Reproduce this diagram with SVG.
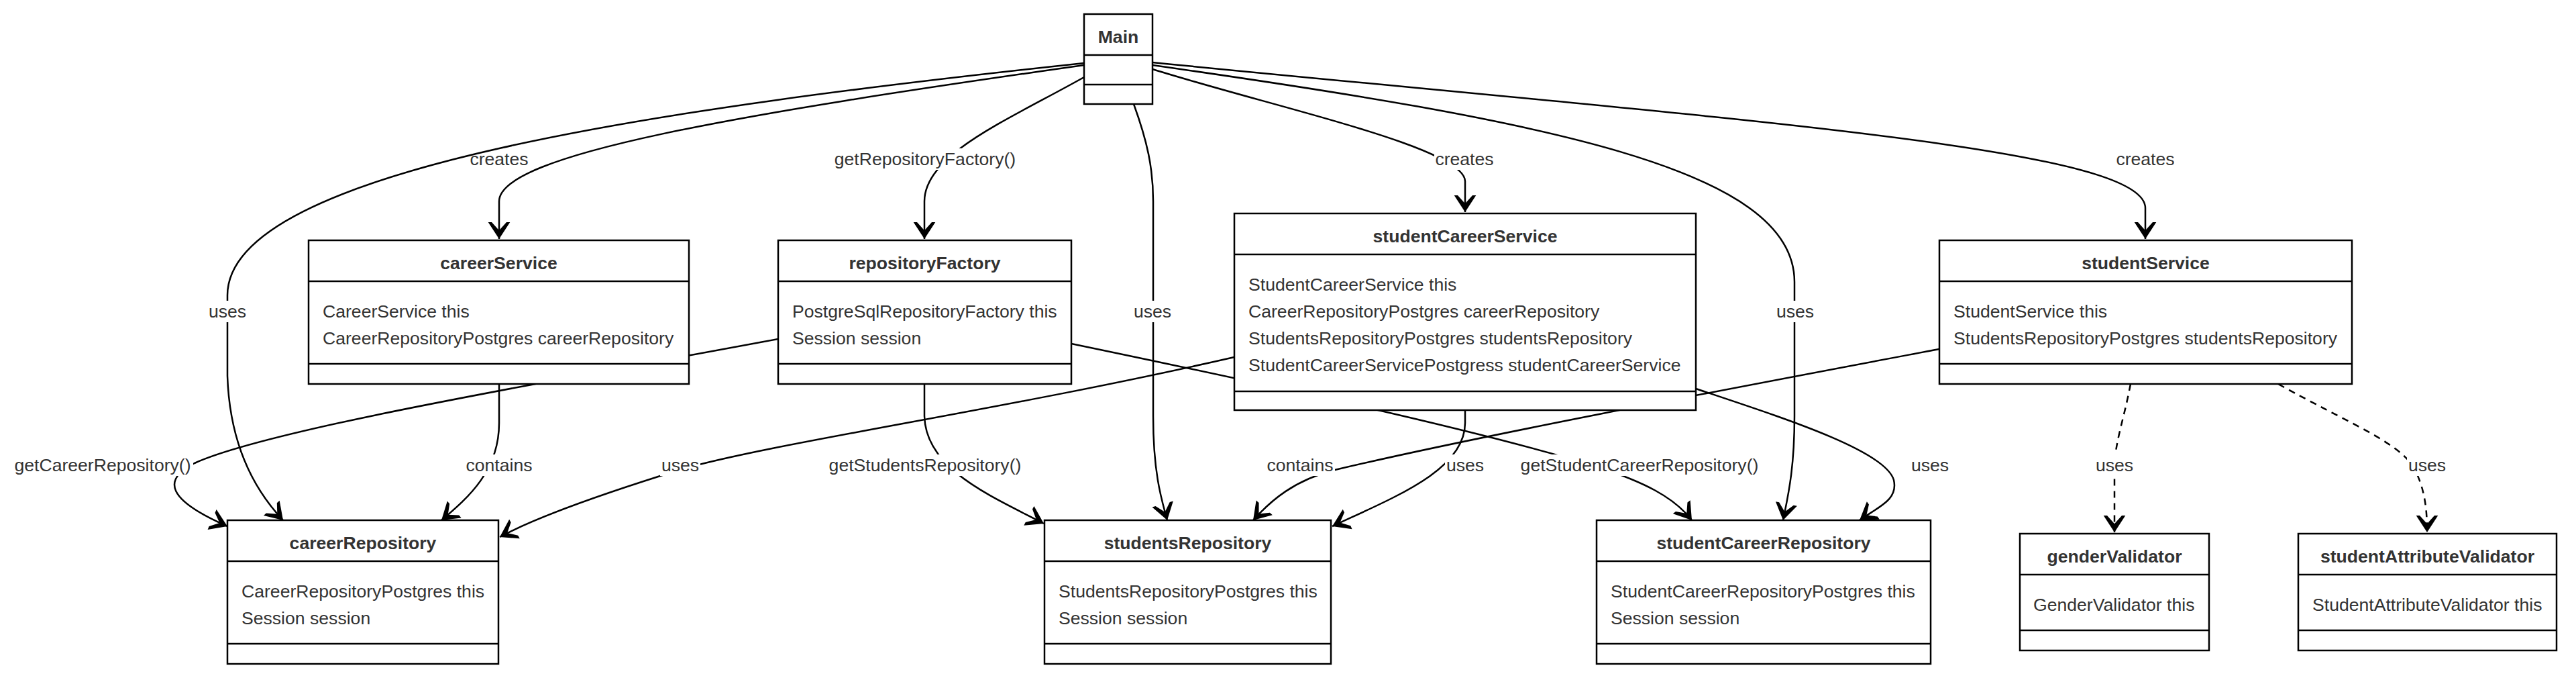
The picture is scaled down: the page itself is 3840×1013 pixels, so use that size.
<svg xmlns="http://www.w3.org/2000/svg" width="3840" height="1013" viewBox="0 0 3840 1013">
<style>
.box{fill:#fff;stroke:#000;stroke-width:2.5}
.dv{stroke:#000;stroke-width:2.5}
.t{font-family:"Liberation Sans",Arial,Helvetica,sans-serif;font-size:26.6px;fill:#333}
.b{font-weight:bold;text-anchor:middle}
.e{fill:none;stroke:#000;stroke-width:2.5;marker-end:url(#arr)}
.d{stroke-dasharray:10 8}
.lb{fill:#fff}
.m{text-anchor:middle}
</style>
<defs>
<marker id="arr" markerUnits="userSpaceOnUse" markerWidth="30" markerHeight="36" viewBox="-27 -18 30 36" refX="0" refY="0" orient="auto">
<path d="M0,0 L-25,-16.3 L-25,-11 L-12.7,0 L-25,11 L-25,16.3 Z" fill="#000"/>
</marker>
</defs>
<rect width="3840" height="1013" fill="#fff"/>
<g id="connectors">
<path class="e" d="M1616,94 C1000,160 339,250 339,440 L339,560 C342,650 370,720 422,775"/>
<path class="e" d="M1616,97 C1100,170 744,230 744,300 L744,356"/>
<path class="e" d="M1616,115 C1500,180 1378,230 1378,300 L1378,356"/>
<path class="e" d="M1690,155 C1710,210 1719,250 1719,300 L1719,620 C1719,700 1730,740 1740,775"/>
<path class="e" d="M1718,103 C1900,160 2184,220 2184,270 L2184,316"/>
<path class="e" d="M1718,97 C2300,180 2675,250 2675,420 L2675,620 C2675,700 2665,740 2658,775"/>
<path class="e" d="M1718,93 C2600,180 3198,220 3198,310 L3198,356"/>
<path class="e" d="M1160,505 C800,572 400,640 290,690 C240,715 250,745 339,784"/>
<path class="e" d="M744,572 L744,630 C744,700 700,740 658,775"/>
<path class="e" d="M1840,532 C1500,610 1150,660 1013,700 C900,735 800,770 745,800"/>
<path class="e" d="M1597,512 C1900,575 2200,640 2380,695 C2450,718 2495,740 2522,775"/>
<path class="e" d="M2891,520 C2600,575 2200,650 1990,700 C1930,715 1895,745 1868,775"/>
<path class="e" d="M2184,611 L2184,630 C2184,700 2080,740 1986,784"/>
<path class="e" d="M2528,579 C2650,620 2810,670 2823,715 C2830,745 2800,755 2772,775"/>
<path class="e d" d="M3176,572 C3165,630 3152,660 3152,700 L3152,793"/>
<path class="e d" d="M3396,572 C3500,630 3580,660 3600,700 C3615,730 3618,760 3618,793"/>
<path class="e" d="M1378,572 L1378,620 C1380,700 1480,740 1556,780"/>
<g id="labels">
<text class="t m" x="744" y="246">creates</text>
<rect class="lb" x="1240" y="221" width="278" height="32"/>
<text class="t m" x="1379" y="246">getRepositoryFactory()</text>
<rect class="lb" x="2138" y="221" width="91" height="32"/>
<text class="t m" x="2183" y="246">creates</text>
<text class="t m" x="3198" y="246">creates</text>
<rect class="lb" x="309" y="448" width="60" height="32"/>
<text class="t m" x="339" y="473">uses</text>
<rect class="lb" x="1688" y="448" width="60" height="32"/>
<text class="t m" x="1718" y="473">uses</text>
<rect class="lb" x="2646" y="448" width="60" height="32"/>
<text class="t m" x="2676" y="473">uses</text>
<rect class="lb" x="19" y="677" width="269" height="32"/>
<text class="t m" x="153" y="702">getCareerRepository()</text>
<rect class="lb" x="692" y="677" width="104" height="32"/>
<text class="t m" x="744" y="702">contains</text>
<rect class="lb" x="984" y="677" width="60" height="32"/>
<text class="t m" x="1014" y="702">uses</text>
<rect class="lb" x="1233" y="677" width="293" height="32"/>
<text class="t m" x="1379" y="702">getStudentsRepository()</text>
<rect class="lb" x="1886" y="677" width="104" height="32"/>
<text class="t m" x="1938" y="702">contains</text>
<rect class="lb" x="2154" y="677" width="60" height="32"/>
<text class="t m" x="2184" y="702">uses</text>
<rect class="lb" x="2264" y="677" width="361" height="32"/>
<text class="t m" x="2444" y="702">getStudentCareerRepository()</text>
<text class="t m" x="2877" y="702">uses</text>
<rect class="lb" x="3122" y="677" width="60" height="32"/>
<text class="t m" x="3152" y="702">uses</text>
<rect class="lb" x="3588" y="677" width="60" height="32"/>
<text class="t m" x="3618" y="702">uses</text>
</g>
</g>
<g id="Main">
<rect class="box" x="1616" y="21" width="102" height="134"/>
<line class="dv" x1="1616" y1="82" x2="1718" y2="82"/>
<line class="dv" x1="1616" y1="126" x2="1718" y2="126"/>
<text class="t b" x="1667" y="64">Main</text>
</g>
<g id="careerService">
<rect class="box" x="460" y="358" width="567" height="214"/>
<line class="dv" x1="460" y1="419" x2="1027" y2="419"/>
<line class="dv" x1="460" y1="542" x2="1027" y2="542"/>
<text class="t b" x="743.5" y="401">careerService</text>
<text class="t" x="481" y="473">CareerService this</text>
<text class="t" x="481" y="513">CareerRepositoryPostgres careerRepository</text>
</g>
<g id="repositoryFactory">
<rect class="box" x="1160" y="358" width="437" height="214"/>
<line class="dv" x1="1160" y1="419" x2="1597" y2="419"/>
<line class="dv" x1="1160" y1="542" x2="1597" y2="542"/>
<text class="t b" x="1378.5" y="401">repositoryFactory</text>
<text class="t" x="1181" y="473">PostgreSqlRepositoryFactory this</text>
<text class="t" x="1181" y="513">Session session</text>
</g>
<g id="studentCareerService">
<rect class="box" x="1840" y="318" width="688" height="293"/>
<line class="dv" x1="1840" y1="379" x2="2528" y2="379"/>
<line class="dv" x1="1840" y1="583" x2="2528" y2="583"/>
<text class="t b" x="2184" y="361">studentCareerService</text>
<text class="t" x="1861" y="433">StudentCareerService this</text>
<text class="t" x="1861" y="473">CareerRepositoryPostgres careerRepository</text>
<text class="t" x="1861" y="513">StudentsRepositoryPostgres studentsRepository</text>
<text class="t" x="1861" y="553">StudentCareerServicePostgress studentCareerService</text>
</g>
<g id="studentService">
<rect class="box" x="2891" y="358" width="615" height="214"/>
<line class="dv" x1="2891" y1="419" x2="3506" y2="419"/>
<line class="dv" x1="2891" y1="542" x2="3506" y2="542"/>
<text class="t b" x="3198.5" y="401">studentService</text>
<text class="t" x="2912" y="473">StudentService this</text>
<text class="t" x="2912" y="513">StudentsRepositoryPostgres studentsRepository</text>
</g>
<g id="careerRepository">
<rect class="box" x="339" y="775" width="404" height="214"/>
<line class="dv" x1="339" y1="836" x2="743" y2="836"/>
<line class="dv" x1="339" y1="959" x2="743" y2="959"/>
<text class="t b" x="541" y="818">careerRepository</text>
<text class="t" x="360" y="890">CareerRepositoryPostgres this</text>
<text class="t" x="360" y="930">Session session</text>
</g>
<g id="studentsRepository">
<rect class="box" x="1557" y="775" width="427" height="214"/>
<line class="dv" x1="1557" y1="836" x2="1984" y2="836"/>
<line class="dv" x1="1557" y1="959" x2="1984" y2="959"/>
<text class="t b" x="1770.5" y="818">studentsRepository</text>
<text class="t" x="1578" y="890">StudentsRepositoryPostgres this</text>
<text class="t" x="1578" y="930">Session session</text>
</g>
<g id="studentCareerRepository">
<rect class="box" x="2380" y="775" width="498" height="214"/>
<line class="dv" x1="2380" y1="836" x2="2878" y2="836"/>
<line class="dv" x1="2380" y1="959" x2="2878" y2="959"/>
<text class="t b" x="2629" y="818">studentCareerRepository</text>
<text class="t" x="2401" y="890">StudentCareerRepositoryPostgres this</text>
<text class="t" x="2401" y="930">Session session</text>
</g>
<g id="genderValidator">
<rect class="box" x="3011" y="795" width="282" height="174"/>
<line class="dv" x1="3011" y1="856" x2="3293" y2="856"/>
<line class="dv" x1="3011" y1="939" x2="3293" y2="939"/>
<text class="t b" x="3152" y="838">genderValidator</text>
<text class="t" x="3031" y="910">GenderValidator this</text>
</g>
<g id="studentAttributeValidator">
<rect class="box" x="3426" y="795" width="385" height="174"/>
<line class="dv" x1="3426" y1="856" x2="3811" y2="856"/>
<line class="dv" x1="3426" y1="939" x2="3811" y2="939"/>
<text class="t b" x="3618.5" y="838">studentAttributeValidator</text>
<text class="t" x="3447" y="910">StudentAttributeValidator this</text>
</g>
</svg>
